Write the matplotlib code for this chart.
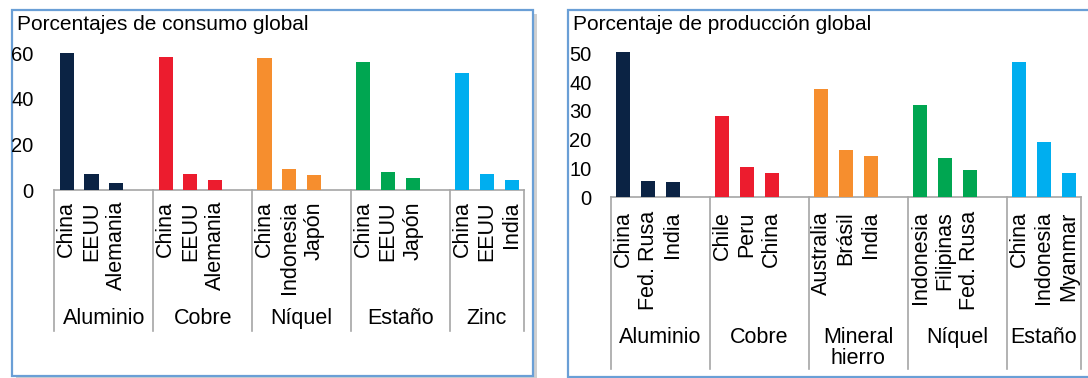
import matplotlib.pyplot as plt
from matplotlib.patches import Rectangle

# datos: consumo global (%)
consumo_metales = ["Aluminio", "Cobre", "Níquel", "Estaño", "Zinc"]
consumo_paises = [["China", "EEUU", "Alemania"],
                  ["China", "EEUU", "Alemania"],
                  ["China", "Indonesia", "Japón"],
                  ["China", "EEUU", "Japón"],
                  ["China", "EEUU", "India"]]
consumo_valores = [[60.2, 6.9, 2.9],
                   [58.6, 7.1, 4.4],
                   [57.8, 9.3, 6.4],
                   [56.3, 7.7, 5.4],
                   [51.4, 6.9, 4.2]]

# datos: produccion global (%)
produccion_metales = ["Aluminio", "Cobre", "Mineral\nhierro", "Níquel", "Estaño"]
produccion_paises = [["China", "Fed. Rusa", "India"],
                     ["Chile", "Peru", "China"],
                     ["Australia", "Brásil", "India"],
                     ["Indonesia", "Filipinas", "Fed. Rusa"],
                     ["China", "Indonesia", "Myanmar"]]
produccion_valores = [[50.3, 5.8, 5.2],
                      [28.1, 10.6, 8.3],
                      [37.7, 16.5, 14.4],
                      [31.9, 13.8, 9.4],
                      [47.0, 19.1, 8.4]]

cores = ["#0b2344", "#ec1c2e", "#f68e2e", "#00a651", "#00aeef"]

plt.rcParams['font.family'] = ['Liberation Sans', 'DejaVu Sans']

W, H = 1088, 378
fig = plt.figure(figsize=(W / 100, H / 100), dpi=100)


def caixa(x0, y0, x1, y1):
    # sombra cinzenta + moldura azul (coordenadas em pixeis da figura)
    fig.add_artist(Rectangle((x0 / W + 0.004, (H - y1) / H - 0.01), (x1 - x0) / W, (y1 - y0) / H,
                             transform=fig.transFigure, facecolor="#d0d0d0", edgecolor="none", zorder=-2))
    fig.add_artist(Rectangle((x0 / W, (H - y1) / H), (x1 - x0) / W, (y1 - y0) / H,
                             transform=fig.transFigure, facecolor="white", edgecolor="#6a9fd6",
                             linewidth=1.6, zorder=-1))


def grafico(rect, metais, paises, valores, ymax, yticks, ypad, label_pad, grupo_off, linha):
    ax = fig.add_axes(rect)
    ax.patch.set_alpha(0)
    seps = [-0.5, 3.5, 7.5, 11.5, 15.5, 18.5]
    xs, nomes = [], []
    for g in range(len(metais)):
        pos = [4 * g + i for i in range(len(paises[g]))]
        ax.bar(pos, valores[g], width=0.57, color=cores[g], zorder=3)
        xs += pos
        nomes += paises[g]
        # nome do grupo por baixo, centrado entre os separadores
        meio = (seps[g] + seps[g + 1]) / 2
        ax.annotate(metais[g], xy=(meio, 0), xycoords=ax.get_xaxis_transform(),
                    xytext=(0, -grupo_off), textcoords='offset pixels',
                    ha='center', va='top', fontsize=15.5, linespacing=1.0)
    # separadores entre grupos
    for s in seps:
        ax.plot([s, s], [0, -linha], transform=ax.get_xaxis_transform(),
                color="#a6a6a6", linewidth=1.2, clip_on=False)
    ax.set_xlim(-0.5, 18.5)
    ax.set_ylim(0, ymax)
    ax.set_yticks(yticks)
    ax.set_xticks(xs, nomes, rotation=90, fontsize=15.5)
    ax.tick_params(axis='x', length=0, pad=label_pad)
    ax.tick_params(axis='y', length=0, pad=ypad, labelsize=14.5)
    for lado in ["left", "right", "top"]:
        ax.spines[lado].set_visible(False)
    ax.spines["bottom"].set_color("#a6a6a6")
    ax.spines["bottom"].set_linewidth(1.2)
    return ax


caixa(12, 10, 533, 376)
caixa(567.5, 10, 1110, 376.5)

fig.text(17 / W, 1 - 24 / H, "Porcentajes de consumo global", fontsize=15, va='center')
fig.text(573 / W, 1 - 24 / H, "Porcentaje de producción global", fontsize=15, va='center')

# eixo da esquerda: base em y=190 px, topo ~48.8 px
grafico([54.4 / W, (H - 190) / H, (524.1 - 54.4) / W, 141.2 / H],
        consumo_metales, consumo_paises, consumo_valores,
        62, [0, 20, 40, 60], 15, 8, 118, 1.0)

# eixo da direita: base em y=197.3 px
grafico([611 / W, (H - 197.3) / H, (1081 - 611) / W, 149.8 / H],
        produccion_metales, produccion_paises, produccion_valores,
        52, [0, 10, 20, 30, 40, 50], 14, 10, 130, 1.146)

fig.savefig("out.png", dpi=100)
